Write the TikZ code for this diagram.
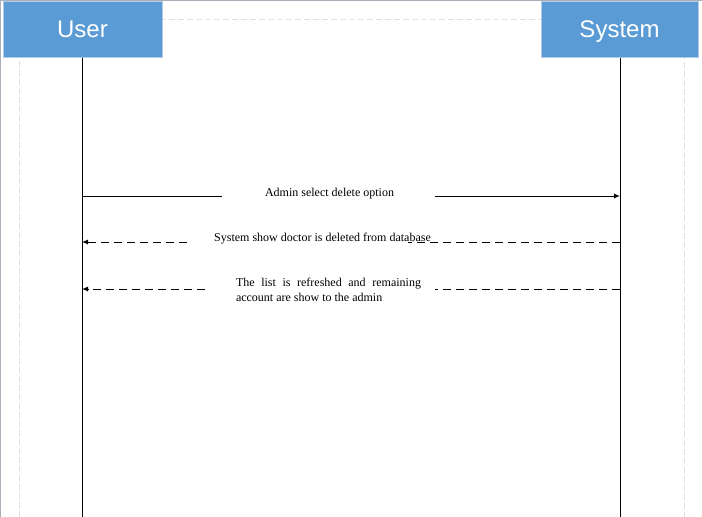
\documentclass[tikz,border=0pt]{standalone}
\usepackage{fontspec}
\newfontfamily\hdfont{Liberation Sans}
\newfontfamily\msgfont{Liberation Serif}
\usetikzlibrary{arrows.meta}
\definecolor{boxblue}{HTML}{5B9BD5}
\definecolor{boxedge}{HTML}{B4CBE6}
\definecolor{framegray}{HTML}{A8B0BA}
\definecolor{guidegray}{HTML}{E0E0E0}
\tikzset{
  actor/.style={rectangle, fill=boxblue, draw=boxedge, line width=0.8pt, text=white,
    font=\hdfont\fontsize{24}{28}\selectfont, minimum height=56pt, inner sep=0pt,
    text height=17pt, text depth=1pt},
  lifeline/.style={line width=1pt, black},
  msgline/.style={line width=1pt, black},
  retline/.style={line width=1pt, black, dash pattern=on 8pt off 5pt},
  tip/.style={-{Latex[length=6pt,width=5pt]}},
  msgtext/.style={font=\msgfont\fontsize{12}{15}\selectfont, inner sep=0pt, text=black},
  guide/.style={guidegray, line width=1pt, dash pattern=on 6pt off 3pt}
}
\begin{document}
\begin{tikzpicture}[x=1pt,y=-1pt]
\useasboundingbox (0,0) rectangle (702,517);
\fill[white] (0,0) rectangle (702,517);
\draw[guide] (19,517) -- (19,19) -- (684,19) -- (684,517);
\draw[framegray, line width=1.5pt] (0.5,517) -- (0.5,0.5) -- (702,0.5);
% actors
\node[actor, minimum width=159pt] (user) at (82.5,29) {User};
\node[actor, minimum width=157pt] (sys) at (619.5,29) {System};
% lifelines
\coordinate (uend) at (82,517);
\coordinate (send) at (620,517);
\coordinate (utop) at (82,57.5);
\coordinate (stop) at (620,57.5);
\draw[lifeline] (utop) -- (uend);
\draw[lifeline] (stop) -- (send);
% message 1
\coordinate (u1) at (82,196);
\coordinate (s1) at (620,196);
\coordinate (g1a) at (222,196);
\coordinate (g1b) at (435,196);
\draw[msgline] (u1) -- (g1a);
\draw[msgline, tip] (g1b) -- (s1);
\node[msgtext] (m1) at (329.5,194) {Admin select delete option};
% message 2
\coordinate (u2) at (82,242);
\coordinate (s2) at (620,242);
\coordinate (g2a) at (187,242);
\coordinate (g2b) at (408,242);
\draw[retline] (s2) -- (g2b);
\draw[retline, tip] (g2a) -- (u2);
\node[msgtext] (m2) at (322.5,239) {System show doctor is deleted from database};
% message 3
\coordinate (u3) at (82,289);
\coordinate (s3) at (620,289);
\coordinate (g3a) at (205,289);
\coordinate (g3b) at (435,289);
\draw[retline] (s3) -- (g3b);
\draw[retline, tip] (g3a) -- (u3);
\node[msgtext, text width=185pt, align=justify] (m3) at (328.5,289.5)
  {The list is refreshed and remaining\linebreak account are show to the admin};
\end{tikzpicture}
\end{document}
